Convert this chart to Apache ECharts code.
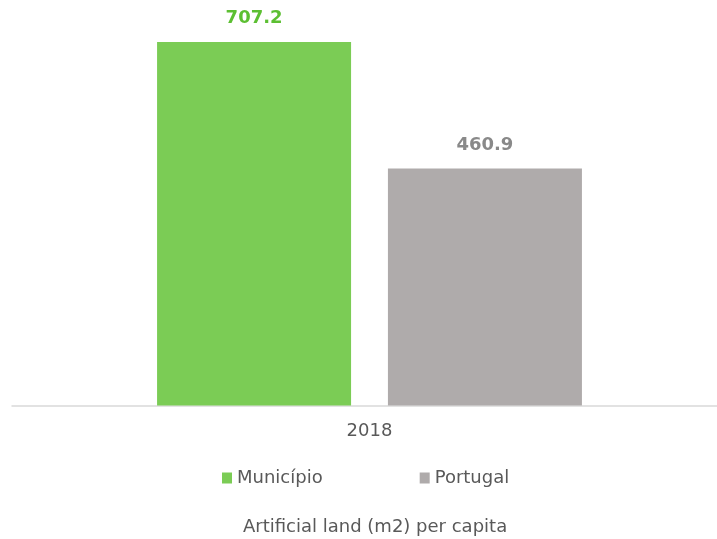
<!DOCTYPE html>
<html>
<head>
<meta charset="utf-8">
<script src="https://cdn.jsdelivr.net/npm/echarts@6/dist/echarts.min.js"></script>
<style>html,body{margin:0;padding:0;background:#fff}#c{width:717px;height:539px}</style>
</head>
<body>
<div id="c"></div>
<script>
var categories = ['2018'];
var seriesNames = ['Município', 'Portugal'];
var municipioValues = [707.2];
var portugalValues = [460.9];
var chartTitle = 'Artificial land (m2) per capita';

var chart = echarts.init(document.getElementById('c'));
var font = '"DejaVu Sans", "Liberation Sans", Arial, sans-serif';
chart.setOption({
  animation: false,
  textStyle: { fontFamily: font },
  title: {
    text: chartTitle, left: 243, top: 518, padding: 0,
    textStyle: { fontFamily: font, fontSize: 18, fontWeight: 'normal', color: '#595959' }
  },
  legend: {
    data: seriesNames, left: 222, top: 469, padding: 0, itemWidth: 10, itemHeight: 11, itemGap: 97,
    icon: 'rect',
    textStyle: { fontFamily: font, fontSize: 18, color: '#595959' }
  },
  grid: [
    { left: 12, right: 0, top: 0, bottom: 133.5 },
    { left: 22, right: 0, top: 0, bottom: 133.5 }
  ],
  xAxis: [
    {
      gridIndex: 0, type: 'category', data: categories,
      axisLine: { lineStyle: { color: '#D9D9D9', width: 1.5 } },
      axisTick: { show: false }, axisLabel: { show: false }
    },
    {
      gridIndex: 1, type: 'category', data: categories,
      axisLine: { show: false },
      axisTick: { show: false },
      axisLabel: { fontFamily: font, fontSize: 18, color: '#595959', margin: 17 }
    }
  ],
  yAxis: [
    { gridIndex: 0, type: 'value', min: 0, max: 789, show: false, splitLine: { show: false } },
    { gridIndex: 1, type: 'value', min: 0, max: 789, show: false, splitLine: { show: false } }
  ],
  series: [
    {
      name: seriesNames[0], type: 'bar', xAxisIndex: 1, yAxisIndex: 1, data: municipioValues, barWidth: 194, barGap: '19%',
      itemStyle: { color: '#7BCC55' },
      label: { show: true, position: 'top', distance: 15, fontFamily: font, fontSize: 18, fontWeight: 'bold', color: '#5CBF32', formatter: function(p){ return p.value.toFixed(1); } }
    },
    {
      name: seriesNames[1], type: 'bar', xAxisIndex: 1, yAxisIndex: 1, data: portugalValues, barWidth: 194,
      itemStyle: { color: '#AFABAB' },
      label: { show: true, position: 'top', distance: 14, fontFamily: font, fontSize: 18, fontWeight: 'bold', color: '#898989', formatter: function(p){ return p.value.toFixed(1); } }
    }
  ]
});
</script>
</body>
</html>
